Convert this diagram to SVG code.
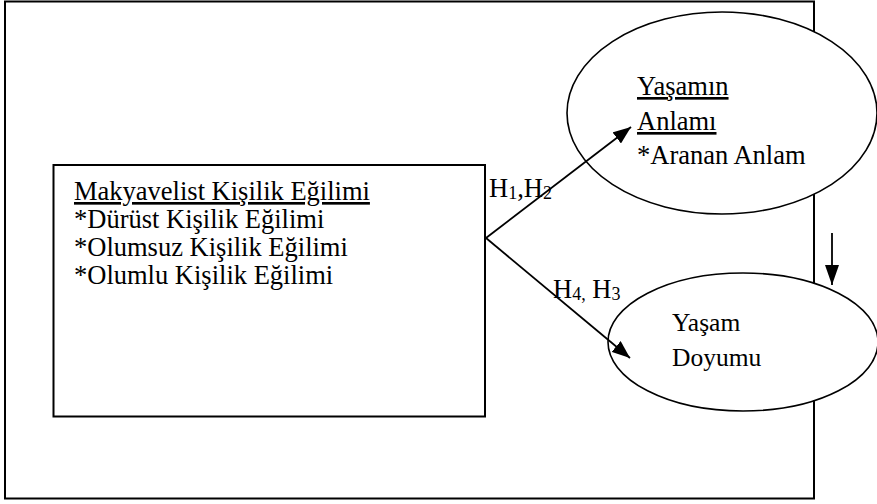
<svg xmlns="http://www.w3.org/2000/svg" width="877" height="504" viewBox="0 0 877 504">
<style>
text{font-family:"Liberation Serif","Times New Roman",serif;font-size:26.5px;fill:#000}
.sub{font-size:18px}
.u{text-decoration:underline}
.box{fill:#fff;stroke:#000;stroke-width:2}
.ell{fill:#fff;stroke:#000;stroke-width:1.6}
.ln{stroke:#000;stroke-width:1.8;fill:none}
</style>
<defs>
<marker id="ah" markerUnits="userSpaceOnUse" markerWidth="18" markerHeight="14" refX="18" refY="7" orient="auto">
<path d="M0,0 L18,7 L0,14 Z" fill="#000"/>
</marker>
<marker id="ahv" markerUnits="userSpaceOnUse" markerWidth="20" markerHeight="14" refX="20" refY="7" orient="auto">
<path d="M0,0 L20,7 L0,14 Z" fill="#000"/>
</marker>
</defs>
<g id="frame"><rect x="5" y="1.5" width="809" height="497" class="box"/></g>
<g id="makyavelist">
<rect x="53.5" y="165" width="431.5" height="251.5" class="box"/>
<text x="74" y="200" class="u">Makyavelist Kişilik Eğilimi</text>
<text x="74" y="228">*Dürüst Kişilik Eğilimi</text>
<text x="74" y="256">*Olumsuz Kişilik Eğilimi</text>
<text x="74" y="284">*Olumlu Kişilik Eğilimi</text>
</g>
<g id="yasamin-anlami">
<ellipse cx="722" cy="113" rx="155" ry="101" class="ell"/>
<text x="637" y="95" class="u">Yaşamın</text>
<text x="637" y="130" class="u">Anlamı</text>
<text x="637" y="164">*Aranan Anlam</text>
</g>
<g id="yasam-doyumu">
<ellipse cx="743" cy="342" rx="135" ry="69" class="ell"/>
<text x="672" y="331" style="font-size:25.5px">Yaşam</text>
<text x="672" y="366" style="font-size:25.5px">Doyumu</text>
</g>
<g id="connectors">
<line x1="486" y1="238" x2="631" y2="127" class="ln" marker-end="url(#ah)"/>
<line x1="486" y1="238" x2="630" y2="358" class="ln" marker-end="url(#ah)"/>
<line x1="832" y1="233" x2="832" y2="285" class="ln" stroke-width="1.5" marker-end="url(#ahv)"/>
<text x="489" y="197">H<tspan class="sub" dy="2">1</tspan><tspan dy="-2">,H</tspan><tspan class="sub" dy="2">2</tspan></text>
<text x="553" y="298">H<tspan class="sub" dy="2">4,</tspan><tspan dy="-2"> H</tspan><tspan class="sub" dy="2">3</tspan></text>
</g>
</svg>
